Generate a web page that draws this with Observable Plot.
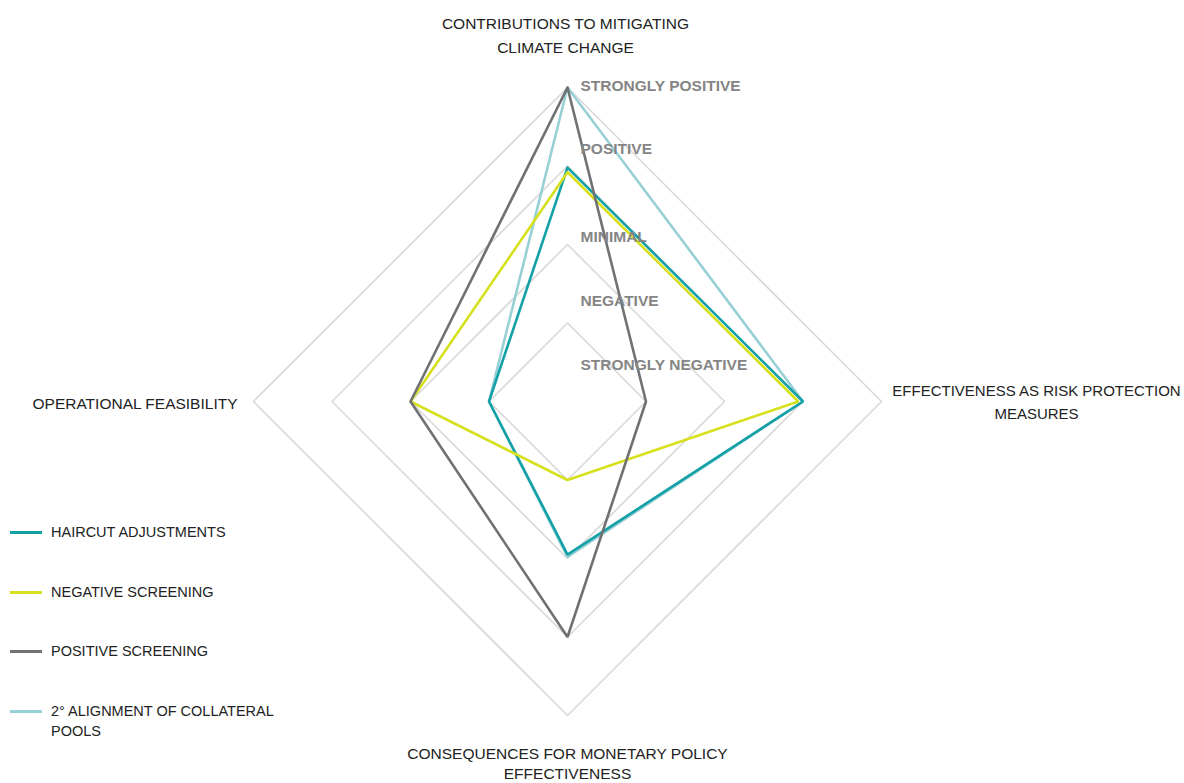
<!DOCTYPE html>
<html>
<head>
<meta charset="utf-8">
<script src="https://cdn.jsdelivr.net/npm/d3@7"></script>
<script src="https://cdn.jsdelivr.net/npm/@observablehq/plot@0.6"></script>
<style>
  html, body { margin: 0; padding: 0; background: #fff; }
  #wrap { position: relative; width: 1184px; height: 783px; font-family: "Liberation Sans", Arial, sans-serif; overflow: hidden; }
  #legend { position: absolute; left: 10px; top: 523px; font-size: 14.5px; color: #222; }
  .item { position: relative; height: 59.7px; }
  .sw { position: absolute; left: 0; top: 8px; width: 32px; height: 3px; }
  .lb { position: absolute; left: 41px; top: 0; line-height: 19.5px; width: 250px; }
</style>
</head>
<body>
<div id="wrap"></div>
<script>
// Axes (clockwise from top)
const axes = [
  "CONTRIBUTIONS TO MITIGATING\nCLIMATE CHANGE",
  "EFFECTIVENESS AS RISK PROTECTION\nMEASURES",
  "CONSEQUENCES FOR MONETARY POLICY\nEFFECTIVENESS",
  "OPERATIONAL FEASIBILITY"
];
// Series names and values (0 = centre, 4 = outer ring), one per axis
const seriesNames = ["HAIRCUT ADJUSTMENTS", "NEGATIVE SCREENING", "POSITIVE SCREENING", "2° ALIGNMENT OF COLLATERAL POOLS"];
const haircut   = [2.98, 3.0, 1.95, 1.0];
const negative  = [2.92, 2.94, 1.0, 2.0];
const positive  = [4.0, 1.0, 3.0, 2.0];
const alignment = [4.0, 3.0, 1.98, 1.0];
const seriesColors = ["#14a0a7", "#d6e01c", "#6f7173", "#97d0d5"];
// Grid rings
const rings = [1, 2, 3, 4];
// Scale labels and where they sit along the top axis
const scaleLabels = ["STRONGLY NEGATIVE", "NEGATIVE", "MINIMAL", "POSITIVE", "STRONGLY POSITIVE"];
const scaleLabelPos = [0.47, 1.28, 2.09, 3.22, 4.02];

const angles = axes.map((_, i) => Math.PI / 2 - i * Math.PI / 2);
const px = (r, i) => r * Math.cos(angles[i]);
const py = (r, i) => r * Math.sin(angles[i]);

const ringPts = rings.flatMap(r => [0, 1, 2, 3, 0].map((i, k) => ({ring: r, k, x: px(r, i), y: py(r, i)})));
const order = [3, 0, 1, 2];
const linePts = order.flatMap(s => {
  const vals = [haircut, negative, positive, alignment][s];
  return [0, 1, 2, 3, 0].map(i => ({series: seriesNames[s], x: px(vals[i], i), y: py(vals[i], i)}));
});
const lblPts = scaleLabels.map((t, i) => ({t, x: 0, y: scaleLabelPos[i]}));

const titleData = [
  {t: axes[0], x: 0, y: 4, dx: -2, dy: -54, anchor: "middle", size: 15.5, lh: 1.5},
  {t: axes[1], x: 4, y: 0, dx: 155, dy: -1, anchor: "middle", size: 15, lh: 1.5},
  {t: axes[2], x: 0, y: -4, dx: 0, dy: 47, anchor: "middle", size: 15.5, lh: 1.32},
  {t: axes[3], x: -4, y: 0, dx: -16, dy: 0, anchor: "end", size: 15.5, lh: 1.5}
];

const chart = Plot.plot({
  width: 1184,
  height: 783,
  marginLeft: 253,
  marginRight: 303,
  marginTop: 87,
  marginBottom: 68,
  x: {domain: [-4, 4], axis: null},
  y: {domain: [-4, 4], axis: null},
  color: {domain: seriesNames, range: seriesColors},
  style: {fontFamily: '"Liberation Sans", Arial, sans-serif', background: "white"},
  marks: [
    Plot.line(ringPts, {x: "x", y: "y", z: "ring", stroke: "#d9d9d9", strokeWidth: 1.6}),
    Plot.line(linePts, {x: "x", y: "y", z: "series", stroke: "series", strokeWidth: 2.6, strokeLinejoin: "miter"}),
    Plot.text(lblPts, {x: "x", y: "y", text: "t", dx: 13, textAnchor: "start", fill: "#858585", fontWeight: "bold", fontSize: 15.5}),
    ...titleData.map(d => Plot.text([d], {x: "x", y: "y", text: "t", dx: d.dx, dy: d.dy, textAnchor: d.anchor, lineHeight: d.lh, fill: "#222", fontSize: d.size}))
  ]
});
const wrap = document.getElementById("wrap");
wrap.appendChild(chart);

const legend = document.createElement("div");
legend.id = "legend";
seriesNames.forEach((n, i) => {
  const it = document.createElement("div");
  it.className = "item";
  const sw = document.createElement("div");
  sw.className = "sw";
  sw.style.background = seriesColors[i];
  const lb = document.createElement("div");
  lb.className = "lb";
  lb.textContent = n;
  it.appendChild(sw); it.appendChild(lb);
  legend.appendChild(it);
});
wrap.appendChild(legend);
</script>
</body>
</html>
